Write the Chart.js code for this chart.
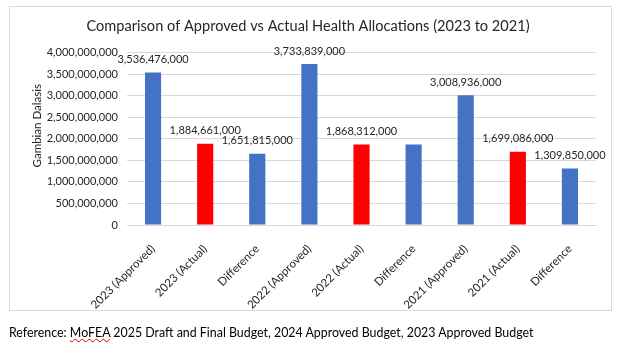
<!DOCTYPE html>
<html>
<head>
<meta charset="utf-8">
<script src="https://cdn.jsdelivr.net/npm/chart.js@4.4.0/dist/chart.umd.min.js"></script>
<style>
  body { margin: 0; background: #fff; width: 617px; height: 352px; overflow: hidden; position: relative; font-family: Lato, sans-serif; }
  #frame { position: absolute; left: 9px; top: 6px; width: 601px; height: 303px; border: 1px solid #d9d9d9; }
  #chart { position: absolute; left: 0; top: 0; }
  #note { position: absolute; left: 9px; top: 325px; font-size: 12.4px; color: #000; white-space: nowrap; }
  .spell { text-decoration: underline wavy #e00000; text-decoration-thickness: 1px; }
</style>
</head>
<body>
<div id="frame"></div>
<canvas id="chart" width="617" height="352"></canvas>
<div id="note">Reference: <span class="spell">MoFEA</span> 2025 Draft and Final Budget, 2024 Approved Budget, 2023 Approved Budget</div>
<script>
// Datos del gráfico
const categories = ['2023 (Approved)', '2023 (Actual)', 'Difference',
                    '2022 (Approved)', '2022 (Actual)', 'Difference',
                    '2021 (Approved)', '2021 (Actual)', 'Difference'];
const allocations = [3536476000, 1884661000, 1651815000,
                     3733839000, 1868312000, 1865527000,
                     3008936000, 1699086000, 1309850000];
// la barra "Difference" de 2022 no lleva etiqueta en el original
const unlabeled = [5];
const yMin = 0, yMax = 4000000000, yStep = 500000000;
const yTitle = 'Gambian Dalasis';

const BLUE = '#4472C4';
const RED = '#FF0000';
const TEXT = '#262626';
const FONT = 'Lato';

// Etiquetas de valor encima de cada barra
const barLabels = {
    id: 'barLabels',
    afterDatasetsDraw(chart) {
        const ctx = chart.ctx;
        const meta = chart.getDatasetMeta(0);
        ctx.save();
        ctx.font = '11px ' + FONT;
        ctx.fillStyle = TEXT;
        ctx.textAlign = 'center';
        ctx.textBaseline = 'middle';
        meta.data.forEach((bar, i) => {
            if (unlabeled.includes(i)) return;
            ctx.fillText(allocations[i].toLocaleString('en-US'), bar.x, bar.y - 13);
        });
        ctx.restore();
    }
};

// Título del eje Y (un poco por encima del centro, como en Excel)
const axisTitle = {
    id: 'axisTitle',
    afterDraw(chart) {
        const ctx = chart.ctx;
        const area = chart.chartArea;
        ctx.save();
        ctx.translate(chart.scales.y.left + 17, (area.top + area.bottom) / 2 - 13);
        ctx.rotate(-Math.PI / 2);
        ctx.font = '11.5px ' + FONT;
        ctx.fillStyle = TEXT;
        ctx.textAlign = 'center';
        ctx.textBaseline = 'middle';
        ctx.fillText(yTitle, 0, 0);
        ctx.restore();
    }
};

new Chart(document.getElementById('chart').getContext('2d'), {
    type: 'bar',
    data: {
        labels: categories,
        datasets: [{
            data: allocations,
            backgroundColor: categories.map(c => c.includes('Actual') ? RED : BLUE),
            barPercentage: 0.31,
            categoryPercentage: 1
        }]
    },
    options: {
        responsive: false,
        animation: false,
        layout: { padding: { left: 20, right: 21, top: 7, bottom: 37 } },
        plugins: {
            legend: { display: false },
            tooltip: { enabled: false },
            title: {
                display: true,
                text: 'Comparison of Approved vs Actual Health Allocations (2023 to 2021)',
                color: TEXT,
                font: { family: FONT, size: 14.6, weight: 'normal' },
                padding: { top: 11, bottom: 17 }
            }
        },
        scales: {
            x: {
                grid: { display: false },
                border: { color: '#d9d9d9' },
                ticks: {
                    color: TEXT,
                    font: { family: FONT, size: 11.5 },
                    minRotation: 45,
                    maxRotation: 45,
                    autoSkip: false,
                    padding: 9
                },
                afterFit(scale) { scale.height = 90; }
            },
            y: {
                min: yMin,
                max: yMax,
                grid: { color: '#d9d9d9', drawTicks: false },
                border: { display: false },
                ticks: {
                    stepSize: yStep,
                    color: TEXT,
                    font: { family: FONT, size: 11 },
                    padding: 9,
                    callback: v => v.toLocaleString('en-US')
                },
                afterFit(scale) { scale.width = 107; }
            }
        }
    },
    plugins: [barLabels, axisTitle]
});
</script>
</body>
</html>
